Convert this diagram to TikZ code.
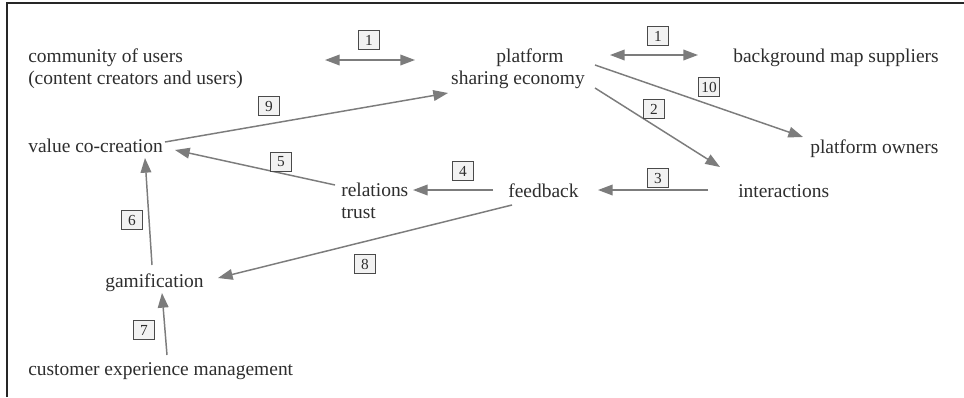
\documentclass[tikz,border=0pt]{standalone}
\usepackage{fontspec}
\setmainfont{Liberation Serif}
\usetikzlibrary{arrows.meta}
\definecolor{txt}{HTML}{2E2E2E}
\definecolor{arr}{HTML}{7C7C7C}
\definecolor{boxfill}{HTML}{F2F2F2}
\definecolor{boxline}{HTML}{4A4A4A}
\begin{document}
\begin{tikzpicture}[x=0.75pt,y=-0.75pt,
  lbl/.style={inner sep=0pt, text=txt, font=\fontsize{14.6}{16.5}\selectfont, anchor=base west},
  clbl/.style={lbl, anchor=base},
  num/.style={draw=boxline, fill=boxfill, line width=0.7pt, text=txt, inner sep=0pt,
    minimum width=16pt, minimum height=13.8pt, font=\fontsize{11.5}{12}\selectfont},
  link/.style={draw=arr, line width=1.1pt, -{Triangle[length=11pt,width=8pt]}},
  dbl/.style={draw=arr, line width=1.1pt, {Triangle[length=11pt,width=8pt]}-{Triangle[length=11pt,width=8pt]}}
]
\useasboundingbox (0,0) rectangle (964,397);
\fill[white] (0,0) rectangle (964,397);
% frame
\draw[line width=1.4pt, black!85] (7,397) -- (7,3) -- (964,3);

% text nodes
\node[lbl] (comm) at (28,62) {community of users};
\node[lbl] (cont) at (28,84) {(content creators and users)};
\node[clbl] (plat) at (530,62) {platform};
\node[clbl] (share) at (518,84) {sharing economy};
\node[lbl] (bg) at (733,62) {background map suppliers};
\node[lbl] (own) at (810,153) {platform owners};
\node[lbl] (val) at (28,152) {value co-creation};
\node[lbl] (rel) at (341,196) {relations};
\node[lbl] (trust) at (341,218) {trust};
\node[lbl] (feed) at (508,197) {feedback};
\node[lbl] (inter) at (738,197) {interactions};
\node[lbl] (gam) at (105,287) {gamification};
\node[lbl] (cxm) at (28,375) {customer experience management};

% connectors
\draw[dbl] ([shift={(297,-2)}]comm.base west) -- ([shift={(-115,-2)}]plat.base);
\draw[dbl] ([shift={(80,-7)}]plat.base) -- ([shift={(-35,-7)}]bg.base west);
\draw[link] ([shift={(137,-10)}]val.base west) -- ([shift={(-70,9)}]share.base);
\draw[link] ([shift={(65,3)}]plat.base) -- ([shift={(-7,-16)}]own.base west);
\draw[link] ([shift={(77,4)}]share.base) -- ([shift={(-18,-30)}]inter.base west);
\draw[link] ([shift={(-30,-7)}]inter.base west) -- ([shift={(90,-7)}]feed.base west);
\draw[link] ([shift={(-15,-7)}]feed.base west) -- ([shift={(72,-6)}]rel.base west);
\draw[link] ([shift={(-6,-11)}]rel.base west) -- ([shift={(147,-2)}]val.base west);
\draw[link] ([shift={(47,-22)}]gam.base west) -- ([shift={(117,6)}]val.base west);
\draw[link] ([shift={(4,8)}]feed.base west) -- ([shift={(113,-9)}]gam.base west);
\draw[link] ([shift={(139,-20)}]cxm.base west) -- ([shift={(57,6)}]gam.base west);

% number labels
\node[num] (n1a) at (369,40) {1};
\node[num] (n1b) at (658,36) {1};
\node[num] (n10) at (709,87) {10};
\node[num] (n2) at (654,109) {2};
\node[num] (n3) at (658,178) {3};
\node[num] (n4) at (463,171) {4};
\node[num] (n9) at (269,106) {9};
\node[num] (n5) at (281,162) {5};
\node[num] (n6) at (132,220) {6};
\node[num] (n8) at (365,264) {8};
\node[num] (n7) at (144,330) {7};
\end{tikzpicture}
\end{document}
